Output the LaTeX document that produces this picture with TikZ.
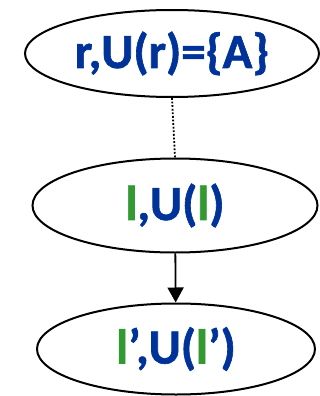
\documentclass[tikz,border=0pt]{standalone}
\usepackage{fontspec}
\setmainfont{Carlito}[BoldFeatures={FakeBold=1.3}]
\usepackage{tikz}
\usetikzlibrary{shapes.geometric, arrows.meta, positioning}
\definecolor{node_blue}{RGB}{0,51,153}
\definecolor{node_green}{RGB}{51,153,51}
\tikzset{
  state_node/.style={ellipse, draw=black, line width=2pt, inner sep=0pt, font=\fontsize{49}{49}\selectfont\bfseries, text=node_blue},
  dotted_link/.style={-, line width=1.8pt, dash pattern=on 1.8pt off 1.8pt, black},
  arrow/.style={-{Triangle[length=15pt, width=16pt]}, line width=1.8pt, black}
}
\newcommand{\gl}{\textcolor{node_green}{l}}

\begin{document}
\begin{tikzpicture}[x=1pt, y=-1pt]
    % fixed frame of the picture
    \useasboundingbox (0,0) rectangle (320,396);

    % the three states, placed at absolute positions
    \node[state_node, minimum width=294pt, minimum height=87pt](root) at (172,53.5) {\raisebox{2pt}{r,U(r)=\{A\}}};
    \node[state_node, minimum width=285pt, minimum height=94pt](state) at (175,205.5) {\gl,U(\gl)};
    \node[state_node, minimum width=278pt, minimum height=91pt](next) at (176,349) {\gl’,U(\gl’)};

    % connectors
    \draw[dotted_link] (root.south) -- (state.north);
    \draw[arrow] (state) -- (next);
\end{tikzpicture}
\end{document}
